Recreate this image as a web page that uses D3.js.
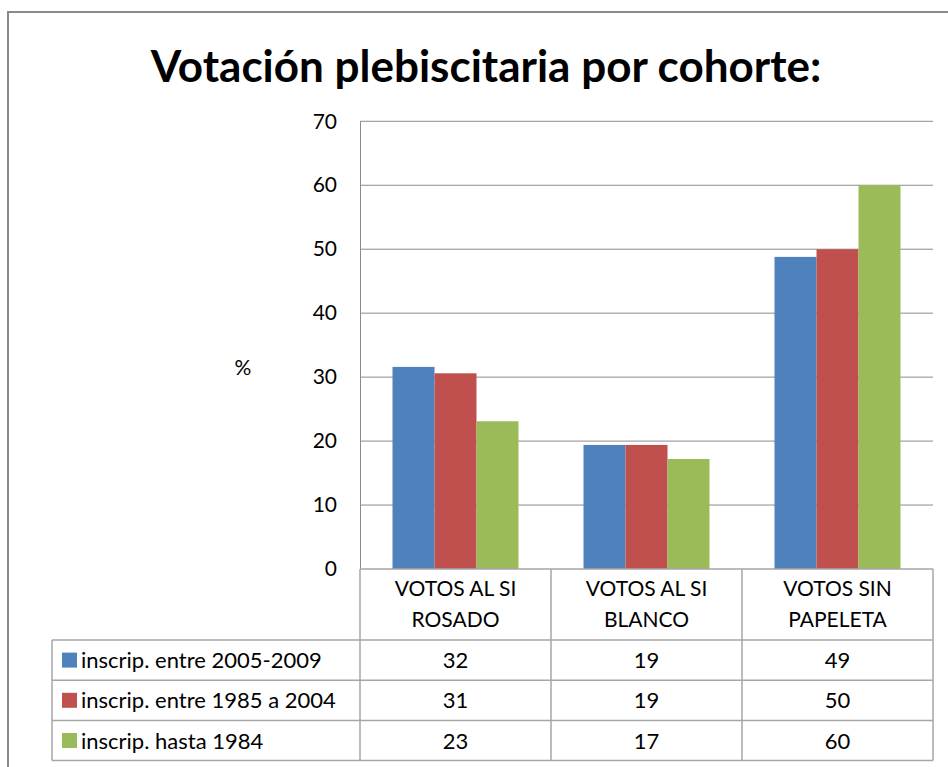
<!DOCTYPE html>
<html>
<head>
<meta charset="utf-8">
<script src="https://cdn.jsdelivr.net/npm/d3@7"></script>
<style>
  body { margin: 0; background: #fff; }
  svg { display: block; font-family: Lato, "Open Sans", sans-serif; }
</style>
</head>
<body>
<div id="chart"></div>
<script>
// data
const categories = ["VOTOS AL SI\nROSADO", "VOTOS AL SI\nBLANCO", "VOTOS SIN\nPAPELETA"];
const series = ["inscrip. entre 2005-2009", "inscrip. entre 1985 a 2004", "inscrip. hasta 1984"];
const cohort2005 = [31.6, 19.4, 48.8];
const cohort1985 = [30.6, 19.4, 50.0];
const cohort1984 = [23.1, 17.2, 60.0];
const yTicks = [0, 10, 20, 30, 40, 50, 60, 70];
const colors = ["#4F81BD", "#C0504D", "#9BBB59"];

const values = [cohort2005, cohort1985, cohort1984];
const width = 948, height = 767;
const plot = { left: 360, right: 933, top: 121.3, bottom: 569 };
const tableLeft = 52;
const headerBottom = 640;
const rowH = 40.2;

const svg = d3.select("#chart").append("svg")
  .attr("width", width)
  .attr("height", height);

// outer chart border (right and bottom are cut off in the reference)
svg.append("path")
  .attr("d", `M8,${height} V12 H${width}`)
  .attr("fill", "none")
  .attr("stroke", "#8a8a8a")
  .attr("stroke-width", 2);

svg.append("text")
  .attr("x", 486)
  .attr("y", 82)
  .attr("text-anchor", "middle")
  .attr("font-weight", 700)
  .style("font-size", "44px")
  .text("Votación plebiscitaria por cohorte:");

const y = d3.scaleLinear().domain([0, 70]).range([plot.bottom, plot.top]);
const x0 = d3.scaleBand().domain(categories).range([plot.left, plot.right]);
const x1 = d3.scaleBand().domain(series)
  .range([32.5, x0.bandwidth() - 32.5]);

// gridlines
svg.append("g")
  .selectAll("line")
  .data(yTicks.filter(d => d > 0))
  .enter().append("line")
  .attr("x1", plot.left)
  .attr("x2", plot.right)
  .attr("y1", d => y(d))
  .attr("y2", d => y(d))
  .attr("stroke", "#8c8c8c")
  .attr("stroke-width", 1);

// y axis
const yAxis = svg.append("g")
  .attr("transform", `translate(${plot.left},0)`)
  .call(d3.axisLeft(y).tickValues(yTicks).tickSize(0).tickPadding(23));
yAxis.select(".domain").attr("stroke", "#8c8c8c");
yAxis.selectAll("text")
  .style("font-family", "Lato, sans-serif")
  .style("font-size", "21px")
  .attr("fill", "#000");

svg.append("text")
  .attr("x", 243)
  .attr("y", 375)
  .attr("text-anchor", "middle")
  .style("font-size", "21px")
  .text("%");

// bars
const groups = svg.append("g")
  .selectAll("g")
  .data(categories)
  .enter().append("g")
  .attr("transform", d => `translate(${x0(d)},0)`);

groups.selectAll("rect")
  .data((d, ci) => series.map((s, si) => ({ s, si, v: values[si][ci] })))
  .enter().append("rect")
  .attr("x", d => x1(d.s))
  .attr("width", x1.bandwidth())
  .attr("y", d => y(d.v))
  .attr("height", d => y(0) - y(d.v))
  .attr("fill", d => colors[d.si]);

// data table
const grid = svg.append("g")
  .attr("stroke", "#a6a6a6")
  .attr("stroke-width", 1.5)
  .attr("fill", "none");

const tableBottom = headerBottom + rowH * series.length;
grid.append("line").attr("x1", plot.left).attr("x2", plot.right)
  .attr("y1", plot.bottom).attr("y2", plot.bottom);
d3.range(series.length + 1).forEach(i => {
  grid.append("line").attr("x1", tableLeft).attr("x2", plot.right)
    .attr("y1", headerBottom + i * rowH).attr("y2", headerBottom + i * rowH);
});
grid.append("line").attr("x1", tableLeft).attr("x2", tableLeft)
  .attr("y1", headerBottom).attr("y2", tableBottom);
categories.concat([null]).forEach((c, i) => {
  const xx = c ? x0(c) : plot.right;
  grid.append("line").attr("x1", xx).attr("x2", xx)
    .attr("y1", plot.bottom).attr("y2", tableBottom);
});

// header labels
categories.forEach(c => {
  const t = svg.append("text")
    .attr("text-anchor", "middle")
    .style("font-size", "21px");
  c.split("\n").forEach((line, li) => {
    t.append("tspan")
      .attr("x", x0(c) + x0.bandwidth() / 2)
      .attr("y", 596 + li * 31)
      .text(line);
  });
});

// rows
const fmt = d3.format(".0f");
series.forEach((s, si) => {
  const cy = headerBottom + si * rowH + rowH / 2;
  svg.append("rect")
    .attr("x", 62)
    .attr("y", cy - 7.5)
    .attr("width", 15)
    .attr("height", 15)
    .attr("fill", colors[si]);
  svg.append("text")
    .attr("x", 81)
    .attr("y", cy + 8)
    .style("font-size", "22px")
    .text(s);
  categories.forEach((c, ci) => {
    svg.append("text")
      .attr("x", x0(c) + x0.bandwidth() / 2)
      .attr("y", cy + 8)
      .attr("text-anchor", "middle")
      .style("font-size", "22px")
      .text(fmt(values[si][ci]));
  });
});
</script>
</body>
</html>
